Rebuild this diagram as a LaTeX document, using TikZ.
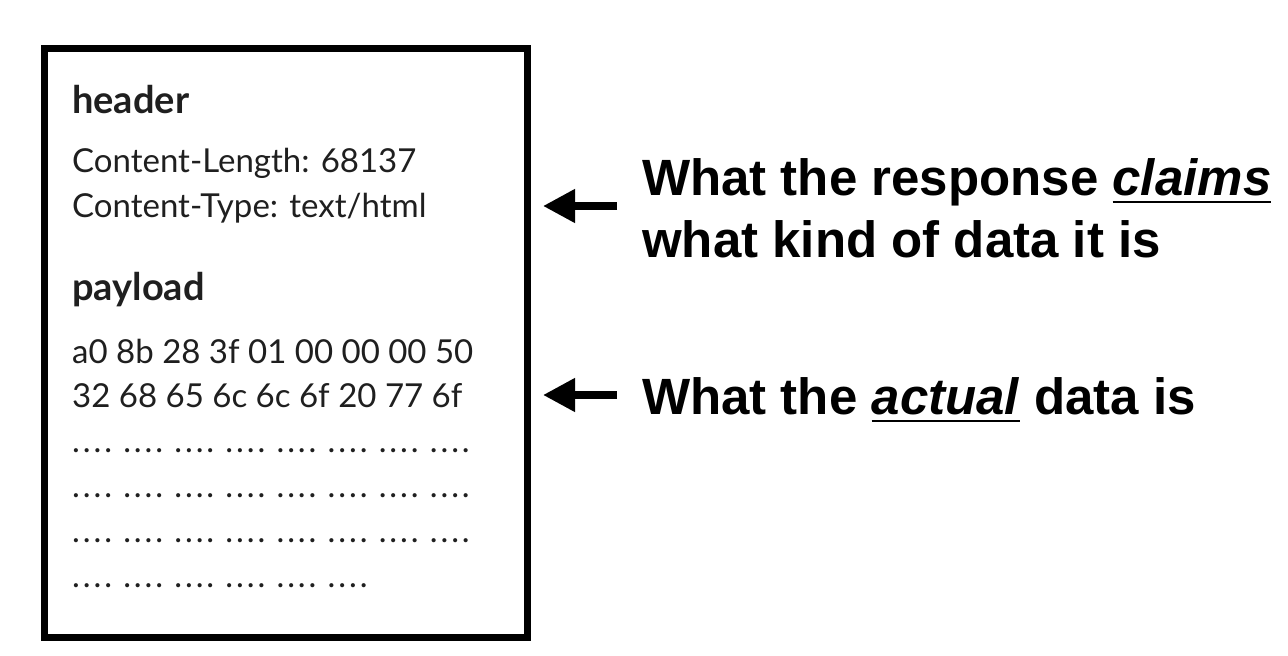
\documentclass[tikz,border=0pt]{standalone}
\usepackage{fontspec}
\usetikzlibrary{arrows.meta}
\setmainfont{Liberation Sans}
\newfontfamily\boxfont{Lato}
\newcommand{\underword}[1]{\setbox0\hbox{#1}\rlap{\rule[-8pt]{\wd0}{2pt}}\box0\relax}
\newcommand{\dotgroup}{\makebox[10.7pt][l]{.}\makebox[10.7pt][l]{.}%
  \makebox[10.7pt][l]{.}\makebox[19pt][l]{.}}

\tikzset{
  field/.style={anchor=base west, inner sep=0pt, text=black!88,
    font=\boxfont\fontsize{33}{33}\selectfont},
  section/.style={field, font=\boxfont\bfseries\fontsize{38}{38}\selectfont},
  remark/.style={anchor=base west, inner sep=0pt,
    font=\bfseries\fontsize{51}{51}\selectfont},
  pointer/.style={line width=7.5pt, -{Triangle[length=32pt,width=32pt]}}
}

\begin{document}
\begin{tikzpicture}[x=1pt,y=-1pt]
  \useasboundingbox (0,0) rectangle (1288,656);

  % the response
  \node[draw, line width=7pt, anchor=north west, inner sep=0pt,
    minimum width=483pt, minimum height=589pt] (msg) at (41,45) {};

  \node[section] (header) at (72,113) {header};
  \node[field] (clength) at (72,172) {Content-Length: 68137};
  \node[field] (ctype) at (72,217) {Content-Type: text/html};

  \node[section] (payload) at (72,300) {payload};
  \node[field] (hexa) at (72,363) {a0 8b 28 3f 01 00 00 00 50};
  \node[field] (hexb) at (72,407) {32 68 65 6c 6c 6f 20 77 6f};
  \foreach \y/\n in {452/1,497/2,542/3}
    \node[field] (dots\n) at (72,\y)
      {\dotgroup\dotgroup\dotgroup\dotgroup\dotgroup\dotgroup\dotgroup\dotgroup};
  \node[field] (dots4) at (72,587)
    {\dotgroup\dotgroup\dotgroup\dotgroup\dotgroup\dotgroup};

  % remarks
  \node[remark] (claima) at (642,195) {What the response \underword{\textit{claims}}};
  \node[remark] (claimb) at (642,257) {what kind of data it is};
  \node[remark] (actual) at (642,414) {What the \underword{\textit{actual}} data is};

  \coordinate (claimtail) at (617,206);
  \coordinate (claimtip) at (543,206);
  \coordinate (actualtail) at (617,395);
  \coordinate (actualtip) at (543,395);
  \draw[pointer] (claimtail) -- (claimtip);
  \draw[pointer] (actualtail) -- (actualtip);
\end{tikzpicture}
\end{document}
